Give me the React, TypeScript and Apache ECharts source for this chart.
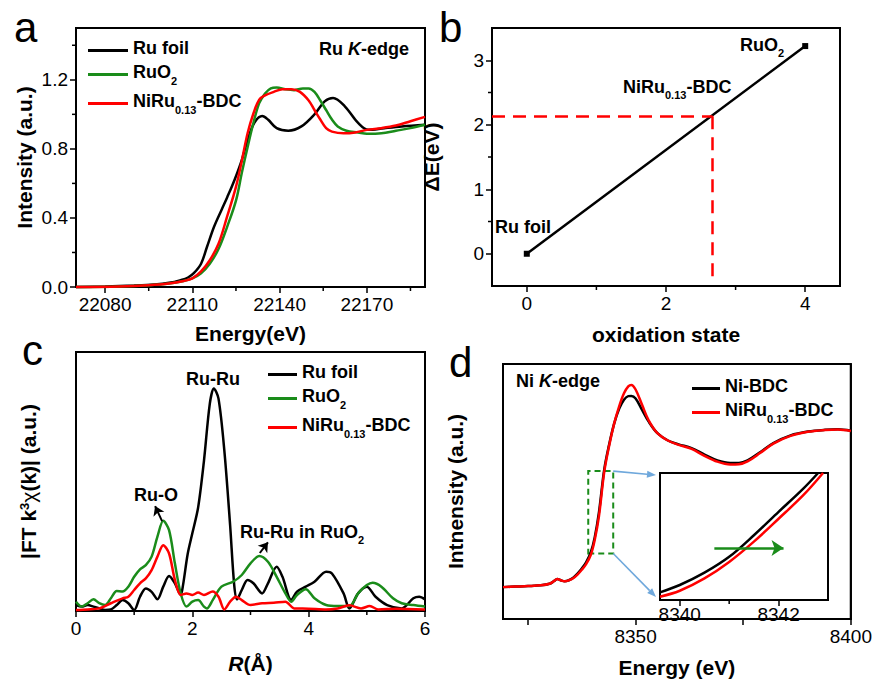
import React, { useEffect, useRef } from "react";
import * as echarts from "echarts";

const FONT = '"Liberation Sans", Arial, Helvetica, sans-serif';
const GREEN = "#1a8c1a";
const RED = "#ff0000";
const BLACK = "#000000";
const BLUE = "#6fa8dc";

// ---------- panel a : Ru K-edge XANES ----------
const aFoilE = [22070, 22080, 22090, 22097, 22102, 22106, 22108.5, 22110.5, 22113, 22115, 22117.5, 22120, 22122, 22124.5, 22127, 22129, 22131.3, 22134, 22136, 22139, 22143, 22147.5, 22152, 22155.5, 22158.4, 22162.5, 22167, 22170.5, 22176, 22182, 22190];
const aFoilI = [0, 0.003, 0.008, 0.014, 0.024, 0.04, 0.055, 0.08, 0.135, 0.23, 0.35, 0.445, 0.52, 0.62, 0.735, 0.85, 0.95, 0.99, 0.97, 0.92, 0.905, 0.93, 1.0, 1.075, 1.095, 1.045, 0.95, 0.91, 0.92, 0.93, 0.94];
const aRuO2E = [22070, 22085, 22095, 22102, 22107, 22110, 22113, 22116, 22119, 22122, 22125, 22127, 22129, 22131, 22133, 22135, 22137, 22139, 22142, 22145, 22148, 22150, 22152, 22154, 22156, 22158, 22160, 22163, 22167, 22170, 22175, 22180, 22185, 22190];
const aRuO2I = [0, 0.003, 0.01, 0.02, 0.035, 0.05, 0.08, 0.135, 0.22, 0.35, 0.5, 0.66, 0.81, 0.95, 1.065, 1.12, 1.15, 1.155, 1.145, 1.14, 1.15, 1.15, 1.13, 1.08, 1.025, 0.97, 0.93, 0.905, 0.895, 0.887, 0.89, 0.905, 0.92, 0.94];
const aNiRuE = [22070, 22085, 22095, 22102, 22107, 22110, 22113, 22116, 22119, 22122, 22125, 22127, 22129, 22131, 22133, 22135, 22138, 22141, 22144, 22147, 22150, 22152, 22154, 22156, 22158, 22162, 22166, 22170, 22175, 22180, 22185, 22190];
const aNiRuI = [0, 0.003, 0.01, 0.02, 0.035, 0.05, 0.09, 0.155, 0.25, 0.41, 0.58, 0.73, 0.89, 1.005, 1.085, 1.11, 1.13, 1.145, 1.145, 1.13, 1.08, 1.025, 0.97, 0.92, 0.9, 0.89, 0.895, 0.91, 0.92, 0.935, 0.96, 0.985];
const aXRange = [22070, 22190];
const aYRange = [0, 1.5];
const aXTicks = [22080, 22110, 22140, 22170];
const aXMinor = [22095, 22125, 22155, 22185];
const aYTicks = [0, 0.4, 0.8, 1.2];
const aYMinor = [0.2, 0.6, 1.0, 1.4];

// ---------- panel b : edge shift vs oxidation state ----------
const bOx = [0, 4];
const bShift = [0, 3.22];
const bSampleOx = 2.67;
const bSampleShift = 2.13;
const bXRange = [-0.5, 4.5];
const bYRange = [-0.5, 3.5];
const bXTicks = [0, 2, 4];
const bXMinor = [1, 3];
const bYTicks = [0, 1, 2, 3];
const bYMinor = [0.5, 1.5, 2.5];

// ---------- panel c : FT-EXAFS ----------
const cFoilR = [0, 0.1, 0.2, 0.3, 0.4, 0.5, 0.6, 0.7, 0.8, 0.9, 1.0, 1.1, 1.2, 1.3, 1.4, 1.5, 1.6, 1.7, 1.8, 1.84, 1.92, 2.0, 2.1, 2.2, 2.3, 2.37, 2.45, 2.55, 2.65, 2.72, 2.77, 2.85, 2.95, 3.05, 3.2, 3.3, 3.45, 3.55, 3.7, 3.8, 3.95, 4.1, 4.3, 4.4, 4.6, 4.7, 4.85, 5.0, 5.15, 5.35, 5.6, 5.8, 5.9, 6.0];
const cFoilY = [0.023, 0.017, 0.023, 0.017, 0.01, 0.004, 0.006, 0.023, 0.042, 0.03, 0.004, 0.055, 0.087, 0.074, 0.045, 0.094, 0.135, 0.107, 0.062, 0.1, 0.22, 0.3, 0.4, 0.58, 0.8, 0.859, 0.82, 0.62, 0.33, 0.1, 0.045, 0.081, 0.12, 0.107, 0.068, 0.107, 0.171, 0.132, 0.042, 0.075, 0.094, 0.113, 0.152, 0.145, 0.068, 0.01, 0.068, 0.094, 0.055, 0.023, 0.01, 0.049, 0.055, 0.045];
const cRuO2R = [0, 0.1, 0.2, 0.3, 0.4, 0.5, 0.6, 0.7, 0.8, 0.9, 1.0, 1.1, 1.2, 1.3, 1.4, 1.5, 1.6, 1.7, 1.8, 1.9, 2.0, 2.1, 2.2, 2.25, 2.35, 2.5, 2.7, 2.85, 3.0, 3.15, 3.3, 3.45, 3.6, 3.7, 3.8, 3.95, 4.1, 4.3, 4.5, 4.7, 4.85, 5.0, 5.1, 5.25, 5.45, 5.6, 5.8, 6.0];
const cRuO2Y = [0.036, 0.017, 0.03, 0.045, 0.03, 0.023, 0.049, 0.077, 0.075, 0.094, 0.132, 0.161, 0.177, 0.21, 0.287, 0.348, 0.312, 0.184, 0.068, 0.017, 0.036, 0.042, 0.017, 0.01, 0.042, 0.094, 0.113, 0.139, 0.184, 0.212, 0.19, 0.132, 0.068, 0.036, 0.062, 0.084, 0.049, 0.023, 0.019, 0.019, 0.068, 0.1, 0.109, 0.094, 0.049, 0.03, 0.023, 0.017];
const cNiRuR = [0, 0.2, 0.4, 0.6, 0.8, 0.9, 1.0, 1.1, 1.2, 1.3, 1.4, 1.5, 1.6, 1.7, 1.8, 1.9, 2.0, 2.1, 2.2, 2.35, 2.45, 2.55, 2.65, 2.75, 2.85, 3.0, 3.2, 3.4, 3.6, 3.75, 4.0, 4.3, 4.5, 4.7, 4.9, 5.05, 5.2, 5.5, 6.0];
const cNiRuY = [0.004, 0.006, 0.01, 0.03, 0.049, 0.055, 0.081, 0.107, 0.126, 0.158, 0.21, 0.254, 0.222, 0.12, 0.062, 0.068, 0.062, 0.071, 0.062, 0.075, 0.055, 0.006, 0.036, 0.055, 0.042, 0.023, 0.03, 0.032, 0.036, 0.01, 0.009, 0.006, 0.01, 0.022, 0.01, 0.019, 0.006, 0.009, 0.006];
const cXRange = [0, 6];
const cYRange = [0, 1];
const cXTicks = [0, 2, 4, 6];
const cXMinor = [1, 3, 5];
const cRuOArrow = [[1.48, 0.347], [1.36, 0.405]];
const cRuRuArrow = [[3.16, 0.224], [3.3, 0.265]];

// ---------- panel d : Ni K-edge XANES ----------
const dE = [8319.2, 8322, 8325, 8328, 8330, 8331, 8331.8, 8332.6, 8333.5, 8334.5, 8335.5, 8336.5, 8337.5, 8338.5, 8339.6, 8340.5, 8341.5, 8342.7, 8343.8, 8345, 8346.2, 8347.3, 8348.3, 8349, 8350, 8351.5, 8353, 8355, 8357.5, 8360, 8363, 8366, 8369, 8372, 8374, 8376, 8379, 8382, 8386, 8390, 8394, 8397, 8400];
const dNiBDC = [0.125, 0.127, 0.129, 0.132, 0.138, 0.148, 0.157, 0.152, 0.148, 0.152, 0.162, 0.178, 0.198, 0.222, 0.262, 0.32, 0.42, 0.585, 0.68, 0.765, 0.825, 0.86, 0.874, 0.875, 0.865, 0.82, 0.775, 0.73, 0.7, 0.685, 0.67, 0.645, 0.622, 0.612, 0.612, 0.622, 0.655, 0.69, 0.72, 0.735, 0.742, 0.744, 0.738];
const dNiRu = [0.125, 0.127, 0.129, 0.132, 0.138, 0.148, 0.157, 0.152, 0.148, 0.152, 0.16, 0.174, 0.193, 0.215, 0.252, 0.31, 0.405, 0.575, 0.675, 0.765, 0.835, 0.885, 0.912, 0.918, 0.9, 0.84, 0.78, 0.73, 0.7, 0.683, 0.667, 0.64, 0.617, 0.606, 0.607, 0.618, 0.652, 0.688, 0.718, 0.734, 0.741, 0.743, 0.737];
const dXRange = [8319.2, 8400];
const dYRange = [0, 1];
const dXTicks = [8325, 8350, 8375, 8400];
const dXLabels = [8350, 8400];
const dBoxE = [8339, 8344.8];
const dBoxI = [0.257, 0.58];

// inset (zoom of the green box)
const inNiBDCE = [8339.6, 8340, 8340.5, 8341, 8341.5, 8342, 8342.5, 8342.8];
const inNiBDCI = [0.06, 0.118, 0.215, 0.34, 0.51, 0.694, 0.877, 1.0];
const inNiRuE = [8339.6, 8340, 8340.5, 8341, 8341.5, 8342, 8342.5, 8342.9];
const inNiRuI = [0.026, 0.073, 0.17, 0.3, 0.46, 0.64, 0.825, 1.0];
const inXRange = [8339.6, 8343];
const inYRange = [0, 1];
const inXTicks = [8340, 8342];
const inXMinor = [8341];
const inShiftArrow = [[8340.7, 0.41], [8342.1, 0.41]];

// layout of the inset plot area (pixels)
const INSET = { left: 660, top: 473, width: 168, height: 127 };

const zip = (xs: number[], ys: number[]) => xs.map((x, i) => [x, ys[i]]);

const RICH: any = {
  m: { fontSize: 18, fontWeight: "bold", fontFamily: FONT, color: "#000", padding: [0, 0, 5, 0], verticalAlign: "bottom" },
  s: { fontSize: 11, fontWeight: "bold", fontFamily: FONT, color: "#000", verticalAlign: "bottom" },
  i: { fontSize: 18, fontWeight: "bold", fontStyle: "italic", fontFamily: FONT, color: "#000", padding: [0, 0, 5, 0], verticalAlign: "bottom" },
};

const LEGEND_TEXT: Record<string, string> = {
  "Ru foil": "{m|Ru foil}",
  RuO2: "{m|RuO}{s|2}",
  "NiRu-BDC": "{m|NiRu}{s|0.13}{m|-BDC}",
  "Ni-BDC": "{m|Ni-BDC}",
};

const NAME_STYLE = { fontSize: 21, fontWeight: "bold", color: "#000", fontFamily: FONT };

function axis(o: any) {
  return {
    type: "value",
    gridIndex: o.grid,
    min: o.range[0],
    max: o.range[1],
    position: o.position,
    axisLine: { show: true, onZero: false, lineStyle: { color: "#000", width: 2 } },
    splitLine: { show: false },
    axisTick: o.ticks
      ? { show: true, inside: false, length: 6, customValues: o.ticks, lineStyle: { color: "#000", width: 1.5 } }
      : { show: false },
    axisLabel: o.labels
      ? { show: true, customValues: o.labels, formatter: o.fmt ?? ((v: number) => String(v)), color: "#000", fontSize: 19, fontFamily: FONT, margin: o.margin ?? 8 }
      : { show: false },
    name: o.name,
    nameLocation: "middle",
    nameGap: o.nameGap,
    nameTextStyle: { ...NAME_STYLE, ...(o.nameStyle || {}) },
  };
}

function grid(left: number, top: number, width: number, height: number, bg = "transparent") {
  return { left, top, width, height, show: true, borderColor: "#000", borderWidth: 2, backgroundColor: bg, containLabel: false };
}

// every series is drawn without clip paths
function line(name: string, xi: number, data: number[][], color: string, extra: any = {}) {
  return {
    type: "line",
    name,
    xAxisIndex: xi,
    yAxisIndex: xi,
    data,
    smooth: 0.35,
    clip: false,
    showSymbol: false,
    symbol: "none",
    lineStyle: { color, width: 2.5 },
    itemStyle: { color },
    silent: true,
    ...extra,
  };
}

// closed frame around a plot area, drawn through its own axes
function frame(i: number, xr: number[], yr: number[]) {
  return {
    type: "line",
    name: "frame" + i,
    xAxisIndex: i,
    yAxisIndex: i,
    data: [[xr[0], yr[0]], [xr[1], yr[0]], [xr[1], yr[1]], [xr[0], yr[1]], [xr[0], yr[0]]],
    smooth: false,
    clip: false,
    showSymbol: false,
    symbol: "none",
    lineStyle: { color: "#000", width: 2 },
    itemStyle: { color: "#000" },
    silent: true,
  };
}

// minor tick marks as a custom series (x ticks hang below the bottom edge, y ticks left of the left edge)
function ticks(i: number, dim: "x" | "y", values: number[], other: number, len: number) {
  return {
    type: "custom",
    name: `ticks${i}${dim}${len}`,
    xAxisIndex: i,
    yAxisIndex: i,
    clip: false,
    silent: true,
    data: values.map((v) => (dim === "x" ? [v, other] : [other, v])),
    renderItem: (_p: any, api: any) => {
      const pt = api.coord([api.value(0), api.value(1)]);
      const shape = dim === "x"
        ? { x1: pt[0], y1: pt[1], x2: pt[0], y2: pt[1] + len }
        : { x1: pt[0], y1: pt[1], x2: pt[0] - len, y2: pt[1] };
      return { type: "line", shape, style: { stroke: "#000", lineWidth: 1.5 } };
    },
  };
}

function txt(text: string, x: number, y: number, fontSize = 18, extra: any = {}) {
  return {
    type: "text",
    x,
    y,
    silent: true,
    style: {
      text,
      fontSize,
      fontFamily: FONT,
      fontWeight: extra.weight ?? "bold",
      fill: "#000",
      align: extra.align ?? "left",
      verticalAlign: extra.va ?? "middle",
      rich: RICH,
    },
  };
}

function legend(data: string[], left: number, top: number, itemWidth: number, itemGap: number) {
  return {
    data,
    left,
    top,
    orient: "vertical",
    icon: "rect",
    itemWidth,
    itemHeight: 3,
    itemGap,
    selectedMode: false,
    padding: 0,
    formatter: (n: string) => LEGEND_TEXT[n] ?? n,
    textStyle: { fontSize: 18, fontWeight: "bold", fontFamily: FONT, color: "#000", rich: RICH },
  };
}

export default function App() {
  const ref = useRef<HTMLDivElement>(null);
  useEffect(() => {
    if (!ref.current) return;
    const chart = echarts.init(ref.current, undefined, { renderer: "svg" });
    const option: any = {
      animation: false,
      backgroundColor: "#fff",
      grid: [
        grid(76, 28, 349, 259),
        grid(492, 28, 348, 258),
        grid(76, 352, 349, 259),
        grid(503, 364, 350, 260),
        grid(INSET.left, INSET.top, INSET.width, INSET.height, "#fff"),
      ],
      xAxis: [
        axis({ grid: 0, range: aXRange, position: "bottom", ticks: aXTicks, labels: aXTicks, name: "Energy(eV)", nameGap: 36 }),
        axis({ grid: 1, range: bXRange, position: "bottom", ticks: bXTicks, labels: bXTicks, name: "oxidation state", nameGap: 38 }),
        axis({ grid: 2, range: cXRange, position: "bottom", ticks: cXTicks, labels: cXTicks, name: "{i|R}(Å)", nameGap: 42, nameStyle: { rich: { i: { ...NAME_STYLE, fontStyle: "italic" } } } }),
        axis({ grid: 3, range: dXRange, position: "bottom", ticks: dXTicks, labels: dXLabels, name: "Energy (eV)", nameGap: 38 }),
        axis({ grid: 4, range: inXRange, position: "bottom", ticks: inXTicks, labels: inXTicks, margin: 5 }),
      ],
      yAxis: [
        axis({ grid: 0, range: aYRange, position: "left", ticks: aYTicks, labels: aYTicks, fmt: (v: number) => v.toFixed(1), name: "Intensity (a.u.)", nameGap: 41 }),
        axis({ grid: 1, range: bYRange, position: "left", ticks: bYTicks, labels: bYTicks, name: "ΔE(eV)", nameGap: 50 }),
        axis({
          grid: 2, range: cYRange, position: "left", name: "|FT k{sup|3}{chi|χ}(k)| (a.u.)", nameGap: 37,
          nameStyle: { rich: { sup: { ...NAME_STYLE, fontSize: 13, verticalAlign: "top" }, chi: { ...NAME_STYLE, fontWeight: "normal" } } },
        }),
        axis({ grid: 3, range: dYRange, position: "left", name: "Intnensity (a.u.)", nameGap: 37 }),
        axis({ grid: 4, range: inYRange, position: "left" }),
      ],
      legend: [
        legend(["Ru foil", "RuO2", "NiRu-BDC"], 88, 39, 40, 6),
        legend(["Ru foil", "RuO2", "NiRu-BDC"], 268, 363, 29, 6),
        legend(["Ni-BDC", "NiRu-BDC"], 692, 377, 28, 6),
      ],
      series: [
        frame(0, aXRange, aYRange),
        frame(1, bXRange, bYRange),
        frame(2, cXRange, cYRange),
        frame(3, dXRange, dYRange),
        // a
        line("Ru foil", 0, zip(aFoilE, aFoilI), BLACK),
        line("RuO2", 0, zip(aRuO2E, aRuO2I), GREEN),
        line("NiRu-BDC", 0, zip(aNiRuE, aNiRuI), RED),
        // b
        {
          type: "line",
          name: "edge shift",
          xAxisIndex: 1,
          yAxisIndex: 1,
          data: zip(bOx, bShift),
          clip: false,
          symbol: "rect",
          symbolSize: 6,
          showSymbol: true,
          lineStyle: { color: BLACK, width: 2.5 },
          itemStyle: { color: BLACK },
          silent: true,
          z: 3,
          markLine: {
            silent: true,
            symbol: ["none", "none"],
            label: { show: false },
            lineStyle: { color: RED, width: 2.5, type: [13, 8] },
            data: [
              [{ coord: [bXRange[0], bSampleShift] }, { coord: [bSampleOx, bSampleShift] }],
              [{ coord: [bSampleOx, bSampleShift] }, { coord: [bSampleOx, -0.36] }],
            ],
          },
        },
        // c
        line("Ru foil", 2, zip(cFoilR, cFoilY), BLACK, {
          smooth: 0.3,
          markLine: {
            silent: true,
            symbol: ["none", "arrow"],
            symbolSize: 9,
            label: { show: false },
            lineStyle: { color: BLACK, width: 2, type: "solid" },
            data: [
              [{ coord: cRuOArrow[0] }, { coord: cRuOArrow[1] }],
              [{ coord: cRuRuArrow[0] }, { coord: cRuRuArrow[1] }],
            ],
          },
        }),
        line("RuO2", 2, zip(cRuO2R, cRuO2Y), GREEN, { smooth: 0.3 }),
        line("NiRu-BDC", 2, zip(cNiRuR, cNiRuY), RED, { smooth: 0.3 }),
        // d
        line("Ni-BDC", 3, zip(dE, dNiBDC), BLACK),
        line("NiRu-BDC", 3, zip(dE, dNiRu), RED, {
          markArea: {
            silent: true,
            itemStyle: { color: "rgba(0,0,0,0)", borderColor: GREEN, borderWidth: 2, borderType: [6, 4] },
            data: [[{ coord: [dBoxE[0], dBoxI[0]] }, { coord: [dBoxE[1], dBoxI[1]] }]],
          },
        }),
        // connectors from the green box to the inset
        {
          type: "custom",
          name: "zoom connectors",
          xAxisIndex: 3,
          yAxisIndex: 3,
          clip: false,
          silent: true,
          data: [[dBoxE[1], dBoxI[1], 0], [dBoxE[1], dBoxI[0], 1]],
          renderItem: (_p: any, api: any) => {
            const a = api.coord([api.value(0), api.value(1)]);
            const b = api.value(2) === 0
              ? [INSET.left - 4, INSET.top + 2]
              : [INSET.left - 4, INSET.top + INSET.height - 3];
            const dx = b[0] - a[0], dy = b[1] - a[1];
            const len = Math.hypot(dx, dy);
            const ux = dx / len, uy = dy / len;
            const hl = 9, hw = 3.5;
            const bx = b[0] - ux * hl, by = b[1] - uy * hl;
            return {
              type: "group",
              children: [
                { type: "line", shape: { x1: a[0], y1: a[1], x2: bx, y2: by }, style: { stroke: BLUE, lineWidth: 1.6 } },
                { type: "polygon", shape: { points: [[b[0], b[1]], [bx - uy * hw, by + ux * hw], [bx + uy * hw, by - ux * hw]] }, style: { fill: BLUE } },
              ],
            };
          },
        },
        // inset
        frame(4, inXRange, inYRange),
        line("Ni-BDC inset", 4, zip(inNiBDCE, inNiBDCI), BLACK),
        line("NiRu-BDC inset", 4, zip(inNiRuE, inNiRuI), RED, {
          markLine: {
            silent: true,
            symbol: ["none", "arrow"],
            symbolSize: 12,
            label: { show: false },
            lineStyle: { color: GREEN, width: 2.5, type: "solid" },
            data: [[{ coord: inShiftArrow[0] }, { coord: inShiftArrow[1] }]],
          },
        }),
        // minor ticks
        ticks(0, "x", aXMinor, aYRange[0], 4),
        ticks(0, "y", aYMinor, aXRange[0], 4),
        ticks(1, "x", bXMinor, bYRange[0], 4),
        ticks(1, "y", bYMinor, bXRange[0], 4),
        ticks(2, "x", cXMinor, cYRange[0], 4),
        ticks(4, "x", inXMinor, inYRange[0], 4),
      ],
      graphic: {
        elements: [
          txt("a", 14, 27, 42, { weight: "normal" }),
          txt("b", 439, 27, 42, { weight: "normal" }),
          txt("c", 22, 350, 42, { weight: "normal" }),
          txt("d", 449, 362, 42, { weight: "normal" }),
          txt("{m|Ru }{i|K}{m|-edge}", 319, 51),
          txt("{m|Ni }{i|K}{m|-edge}", 516, 383),
          txt("{m|RuO}{s|2}", 740, 47),
          txt("{m|NiRu}{s|0.13}{m|-BDC}", 623, 89),
          txt("{m|Ru foil}", 495, 229),
          txt("{m|Ru-Ru}", 186, 381),
          txt("{m|Ru-O}", 134, 497),
          txt("{m|Ru-Ru in RuO}{s|2}", 240, 534),
        ],
      },
    };
    chart.setOption(option);
    return () => chart.dispose();
  }, []);
  return <div ref={ref} style={{ position: "fixed", left: 0, top: 0, width: 875, height: 679, background: "#fff" }} />;
}
